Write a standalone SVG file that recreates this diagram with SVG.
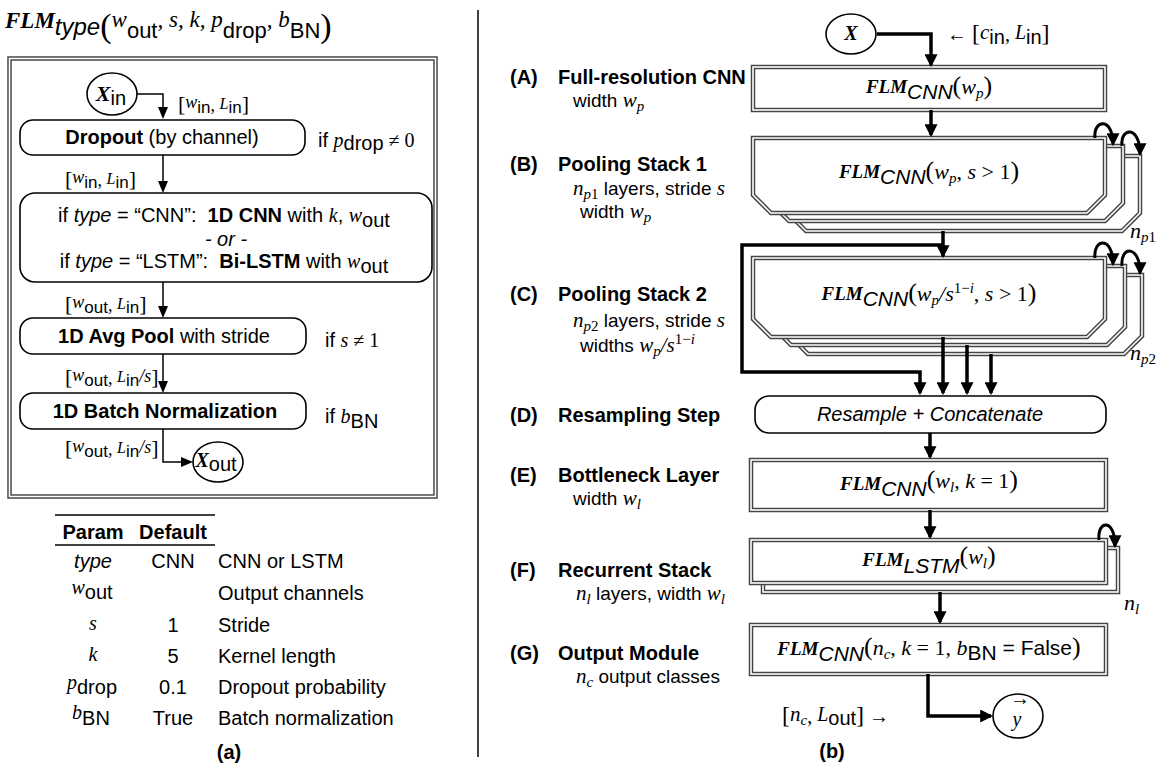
<svg xmlns="http://www.w3.org/2000/svg" width="1163" height="767" viewBox="0 0 1163 767">
<defs>
<style>
text{font-family:"Liberation Sans",Arial,sans-serif;font-size:20px;fill:#000;white-space:pre}
.v{font-family:"Liberation Serif","Times New Roman",serif;font-style:italic}
.r{font-family:"Liberation Serif","Times New Roman",serif}
.b{font-weight:bold}
.i{font-style:italic}
.d{font-size:19px}
.f{font-size:22px}
.thin{fill:none;stroke:#000;stroke-width:1.5}
.thick{fill:none;stroke:#000;stroke-width:3.5}
.arc{fill:none;stroke:#000;stroke-width:3}
.rb{fill:#fff;stroke:#000;stroke-width:1.6}
.do{fill:#fff;stroke:#444;stroke-width:4.5}
.di{fill:none;stroke:#fff;stroke-width:1.6}
.circ{fill:#fff;stroke:#000;stroke-width:1.6}
.rule{stroke:#000;stroke-width:1.5}
</style>
<marker id="ha" viewBox="0 0 12 10" refX="10" refY="5" markerWidth="12" markerHeight="10" markerUnits="userSpaceOnUse" orient="auto"><path d="M0,0 L12,5 L0,10 z"/></marker>
<marker id="hb" viewBox="0 0 12 12" refX="10" refY="6" markerWidth="13" markerHeight="13" markerUnits="userSpaceOnUse" orient="auto"><path d="M0,0 L12,6 L0,12 z"/></marker>
</defs>
<rect width="1163" height="767" fill="#fff"/>

<g id="title"><text x="5" y="28"><tspan class="v b" font-size="23">FLM</tspan><tspan class="i" font-size="24" dy="7">type</tspan><tspan class="r" font-size="34" dy="2">(</tspan><tspan class="v" font-size="23" dy="-10">w</tspan><tspan font-size="22" dy="11">out</tspan><tspan class="v" font-size="23" dy="-11">, s, k, p</tspan><tspan font-size="22" dy="11">drop</tspan><tspan class="v" font-size="23" dy="-11">, b</tspan><tspan font-size="22" dy="11">BN</tspan><tspan class="r" font-size="34" dy="-1">)</tspan></text></g>

<g id="flm-frame"><rect x="9.5" y="58.5" width="426" height="438" class="do"/><rect x="9.5" y="58.5" width="426" height="438" class="di"/></g>

<g id="x-in"><ellipse cx="112" cy="94" rx="25" ry="21" class="circ"/><text x="111" y="101" text-anchor="middle"><tspan class="v b" font-size="22">X</tspan><tspan dy="4">in</tspan></text></g>

<g id="dropout"><rect x="20" y="120" width="285" height="35" rx="13" class="rb"/><text x="162" y="144" text-anchor="middle"><tspan class="b">Dropout</tspan> (by channel)</text><text x="318" y="147">if <tspan class="v">p</tspan><tspan dy="3">drop</tspan><tspan class="r" dy="-3"> ≠ 0</tspan></text></g>

<g id="layer"><rect x="20" y="193" width="412" height="89" rx="15" class="rb"/><text x="224" y="222" text-anchor="middle">if <tspan class="i">type</tspan> = “CNN”:  <tspan class="b">1D CNN</tspan> with <tspan class="v">k</tspan>, <tspan class="v">w</tspan><tspan dy="5">out</tspan></text><text x="226" y="246" text-anchor="middle" class="i">- or -</text><text x="224" y="268" text-anchor="middle">if <tspan class="i">type</tspan> = “LSTM”:  <tspan class="b">Bi-LSTM</tspan> with <tspan class="v">w</tspan><tspan dy="5">out</tspan></text></g>

<g id="avgpool"><rect x="20" y="318" width="286" height="36" rx="13" class="rb"/><text x="164" y="343" text-anchor="middle"><tspan class="b">1D Avg Pool</tspan> with stride</text><text x="325" y="347">if <tspan class="v">s</tspan><tspan class="r"> ≠ 1</tspan></text></g>

<g id="batchnorm"><rect x="20" y="393" width="286" height="36" rx="13" class="rb"/><text x="165" y="418" text-anchor="middle" class="b">1D Batch Normalization</text><text x="325" y="423">if <tspan class="v">b</tspan><tspan dy="5">BN</tspan></text></g>

<g id="x-out"><ellipse cx="218" cy="462" rx="25" ry="20" class="circ"/><text x="216" y="467" text-anchor="middle"><tspan class="v b">X</tspan><tspan dy="4">out</tspan></text></g>

<g id="left-connectors">
<path class="thin" marker-end="url(#ha)" d="M137,94 H163 V117"/>
<path class="thin" marker-end="url(#ha)" d="M163,155 V191"/>
<path class="thin" marker-end="url(#ha)" d="M163,282 V316"/>
<path class="thin" marker-end="url(#ha)" d="M163,354 V391"/>
<path class="thin" marker-end="url(#ha)" d="M163,429 V462 H191"/>
</g>

<g id="left-edge-labels">
<text x="178" y="111"><tspan class="r" font-size="22">[</tspan><tspan class="v" font-size="18" dy="-3">w</tspan><tspan font-size="17" dy="5">in</tspan><tspan class="r" font-size="18" dy="-2">, </tspan><tspan class="v" font-size="16" dy="-2">L</tspan><tspan font-size="17" dy="4">in</tspan><tspan class="r" font-size="22" dy="-2">]</tspan></text>
<text x="65" y="186"><tspan class="r" font-size="22">[</tspan><tspan class="v" font-size="18" dy="-3">w</tspan><tspan font-size="17" dy="5">in</tspan><tspan class="r" font-size="18" dy="-2">, </tspan><tspan class="v" font-size="16" dy="-2">L</tspan><tspan font-size="17" dy="4">in</tspan><tspan class="r" font-size="22" dy="-2">]</tspan></text>
<text x="65" y="311"><tspan class="r" font-size="22">[</tspan><tspan class="v" font-size="18" dy="-3">w</tspan><tspan font-size="17" dy="5">out</tspan><tspan class="r" font-size="18" dy="-2">, </tspan><tspan class="v" font-size="16" dy="-2">L</tspan><tspan font-size="17" dy="4">in</tspan><tspan class="r" font-size="22" dy="-2">]</tspan></text>
<text x="65" y="384"><tspan class="r" font-size="22">[</tspan><tspan class="v" font-size="18" dy="-3">w</tspan><tspan font-size="17" dy="5">out</tspan><tspan class="r" font-size="18" dy="-2">, </tspan><tspan class="v" font-size="16" dy="-2">L</tspan><tspan font-size="17" dy="4">in</tspan><tspan class="v" font-size="18" dy="-4">/s</tspan><tspan class="r" font-size="22" dy="2">]</tspan></text>
<text x="65" y="455"><tspan class="r" font-size="22">[</tspan><tspan class="v" font-size="18" dy="-3">w</tspan><tspan font-size="17" dy="5">out</tspan><tspan class="r" font-size="18" dy="-2">, </tspan><tspan class="v" font-size="16" dy="-2">L</tspan><tspan font-size="17" dy="4">in</tspan><tspan class="v" font-size="18" dy="-4">/s</tspan><tspan class="r" font-size="22" dy="2">]</tspan></text>
</g>

<g id="param-table">
<line x1="55" y1="515" x2="215" y2="515" class="rule"/>
<line x1="55" y1="545" x2="215" y2="545" class="rule"/>
<text x="93" y="539" text-anchor="middle" class="b" font-size="18">Param</text>
<text x="173" y="539" text-anchor="middle" class="b" font-size="18">Default</text>
<text x="93" y="568" text-anchor="middle" class="i" font-size="18">type</text>
<text x="173" y="568" text-anchor="middle" font-size="18">CNN</text>
<text x="218" y="568" font-size="18">CNN or LSTM</text>
<text x="92" y="597" text-anchor="middle" font-size="18"><tspan class="v" font-size="20" dy="-3">w</tspan><tspan dy="5">out</tspan></text>
<text x="218" y="600" font-size="18">Output channels</text>
<text x="93" y="630" text-anchor="middle" class="v" font-size="20">s</text>
<text x="173" y="632" text-anchor="middle" font-size="18">1</text>
<text x="218" y="632" font-size="18">Stride</text>
<text x="93" y="661" text-anchor="middle" class="v" font-size="20">k</text>
<text x="173" y="663" text-anchor="middle" font-size="18">5</text>
<text x="218" y="663" font-size="18">Kernel length</text>
<text x="92" y="691" text-anchor="middle" font-size="18"><tspan class="v" font-size="20" dy="-2">p</tspan><tspan dy="5">drop</tspan></text>
<text x="173" y="694" text-anchor="middle" font-size="18">0.1</text>
<text x="218" y="694" font-size="18">Dropout probability</text>
<text x="91" y="722" text-anchor="middle" font-size="18"><tspan class="v" font-size="20" dy="-3">b</tspan><tspan dy="6">BN</tspan></text>
<text x="173" y="725" text-anchor="middle" font-size="18">True</text>
<text x="218" y="725" font-size="18">Batch normalization</text>
<text x="229" y="759" text-anchor="middle" class="b">(a)</text>
</g>

<g id="divider"><line x1="478" y1="10" x2="478" y2="757" class="rule"/></g>

<g id="labels-b">
<text x="510" y="84" class="b">(A)</text><text x="558" y="84" class="b">Full-resolution CNN</text>
<text x="573" y="107" class="d">width <tspan class="v" font-size="21">w</tspan><tspan class="v" font-size="15" dy="4">p</tspan></text>
<text x="510" y="171" class="b">(B)</text><text x="558" y="171" class="b">Pooling Stack 1</text>
<text x="573" y="195" class="d"><tspan class="v" font-size="21">n</tspan><tspan class="v" font-size="15" dy="4">p</tspan><tspan class="r" font-size="15">1</tspan><tspan dy="-4"> layers, stride </tspan><tspan class="v" font-size="21">s</tspan></text>
<text x="580" y="218" class="d">width <tspan class="v" font-size="21">w</tspan><tspan class="v" font-size="15" dy="4">p</tspan></text>
<text x="510" y="301" class="b">(C)</text><text x="558" y="301" class="b">Pooling Stack 2</text>
<text x="573" y="327" class="d"><tspan class="v" font-size="21">n</tspan><tspan class="v" font-size="15" dy="4">p</tspan><tspan class="r" font-size="15">2</tspan><tspan dy="-4"> layers, stride </tspan><tspan class="v" font-size="21">s</tspan></text>
<text x="580" y="352" class="d">widths <tspan class="v" font-size="21">w</tspan><tspan class="v" font-size="15" dy="4">p</tspan><tspan class="v" font-size="21" dy="-4">/s</tspan><tspan class="r" font-size="15" dy="-8">1−</tspan><tspan class="v" font-size="15">i</tspan></text>
<text x="510" y="422" class="b">(D)</text><text x="558" y="422" class="b">Resampling Step</text>
<text x="510" y="482" class="b">(E)</text><text x="558" y="482" class="b">Bottleneck Layer</text>
<text x="573" y="505" class="d">width <tspan class="v" font-size="21">w</tspan><tspan class="v" font-size="15" dy="4">l</tspan></text>
<text x="510" y="577" class="b">(F)</text><text x="558" y="577" class="b">Recurrent Stack</text>
<text x="576" y="600" class="d"><tspan class="v" font-size="21">n</tspan><tspan class="v" font-size="15" dy="4">l</tspan><tspan dy="-4"> layers, width </tspan><tspan class="v" font-size="21">w</tspan><tspan class="v" font-size="15" dy="4">l</tspan></text>
<text x="510" y="660" class="b">(G)</text><text x="558" y="660" class="b">Output Module</text>
<text x="576" y="683" class="d"><tspan class="v" font-size="21">n</tspan><tspan class="v" font-size="15" dy="4">c</tspan><tspan dy="-4"> output classes</tspan></text>
<text x="832" y="758" text-anchor="middle" class="b">(b)</text>
</g>

<g id="x-node"><ellipse cx="851" cy="34" rx="25" ry="20" class="circ"/><text x="851" y="40" text-anchor="middle" class="v b" font-size="21">X</text><text x="947" y="41"><tspan class="r">← </tspan><tspan class="r" font-size="24">[</tspan><tspan class="v" font-size="21" dy="-2">c</tspan><tspan dy="5">in</tspan><tspan class="r" dy="-3">, </tspan><tspan class="v" dy="-2">L</tspan><tspan dy="5">in</tspan><tspan class="r" font-size="24" dy="-3">]</tspan></text></g>

<g id="full-res-cnn"><rect x="753" y="67" width="352" height="43" class="do"/><rect x="753" y="67" width="352" height="43" class="di"/><text x="929" y="93" text-anchor="middle" class="f"><tspan class="v b" font-size="19">FLM</tspan><tspan class="i" font-size="21" dy="6">CNN</tspan><tspan class="r" font-size="26" dy="-5">(</tspan><tspan class="v">w</tspan><tspan class="v" font-size="15" dy="4">p</tspan><tspan class="r" font-size="26" dy="-4">)</tspan></text></g>

<g id="pooling-stack-1">
<polygon class="do" points="788,156 1140,156 1140,213 1122,231 806,231 788,213"/><polygon class="di" points="788,156 1140,156 1140,213 1122,231 806,231 788,213"/>
<polygon class="do" points="771,146 1123,146 1123,203 1105,221 789,221 771,203"/><polygon class="di" points="771,146 1123,146 1123,203 1105,221 789,221 771,203"/>
<polygon class="do" points="753,138 1105,138 1105,195 1087,213 771,213 753,195"/><polygon class="di" points="753,138 1105,138 1105,195 1087,213 771,213 753,195"/>
<text x="929" y="178" text-anchor="middle" class="f"><tspan class="v b" font-size="19">FLM</tspan><tspan class="i" font-size="21" dy="6">CNN</tspan><tspan class="r" font-size="26" dy="-5">(</tspan><tspan class="v">w</tspan><tspan class="v" font-size="15" dy="4">p</tspan><tspan class="r" dy="-4">, </tspan><tspan class="v">s</tspan><tspan class="r"> &gt; 1</tspan><tspan class="r" font-size="26">)</tspan></text>
<text x="1130" y="238" class="f"><tspan class="v">n</tspan><tspan class="v" font-size="15" dy="4">p</tspan><tspan class="r" font-size="15">1</tspan></text>
</g>

<g id="pooling-stack-2">
<polygon class="do" points="790,275 1142,275 1142,336 1124,354 808,354 790,336"/><polygon class="di" points="790,275 1142,275 1142,336 1124,354 808,354 790,336"/>
<polygon class="do" points="773,266 1125,266 1125,327 1107,345 791,345 773,327"/><polygon class="di" points="773,266 1125,266 1125,327 1107,345 791,345 773,327"/>
<polygon class="do" points="753,258 1105,258 1105,319 1087,337 771,337 753,319"/><polygon class="di" points="753,258 1105,258 1105,319 1087,337 771,337 753,319"/>
<text x="929" y="300" text-anchor="middle" class="f"><tspan class="v b" font-size="19">FLM</tspan><tspan class="i" font-size="21" dy="6">CNN</tspan><tspan class="r" font-size="26" dy="-5">(</tspan><tspan class="v">w</tspan><tspan class="v" font-size="15" dy="4">p</tspan><tspan class="v" dy="-4">/s</tspan><tspan class="r" font-size="15" dy="-8">1−</tspan><tspan class="v" font-size="15">i</tspan><tspan class="r" dy="8">, </tspan><tspan class="v">s</tspan><tspan class="r"> &gt; 1</tspan><tspan class="r" font-size="26">)</tspan></text>
<text x="1130" y="360" class="f"><tspan class="v">n</tspan><tspan class="v" font-size="15" dy="4">p</tspan><tspan class="r" font-size="15">2</tspan></text>
</g>

<g id="resample"><rect x="755" y="396" width="351" height="37" rx="14" class="rb"/><text x="930" y="421" text-anchor="middle" class="i">Resample + Concatenate</text></g>

<g id="bottleneck"><rect x="751" y="460" width="355" height="50" class="do"/><rect x="751" y="460" width="355" height="50" class="di"/><text x="929" y="490" text-anchor="middle" class="f"><tspan class="v b" font-size="19">FLM</tspan><tspan class="i" font-size="21" dy="6">CNN</tspan><tspan class="r" font-size="26" dy="-8">(</tspan><tspan class="v">w</tspan><tspan class="v" font-size="15" dy="4">l</tspan><tspan class="r" dy="-4">, </tspan><tspan class="v">k</tspan><tspan class="r"> = 1</tspan><tspan class="r" font-size="26">)</tspan></text></g>

<g id="recurrent-stack">
<rect x="763" y="548" width="355" height="44" class="do"/><rect x="763" y="548" width="355" height="44" class="di"/>
<rect x="751" y="540" width="355" height="43" class="do"/><rect x="751" y="540" width="355" height="43" class="di"/>
<text x="929" y="566" text-anchor="middle" class="f"><tspan class="v b" font-size="19">FLM</tspan><tspan class="i" font-size="21" dy="7">LSTM</tspan><tspan class="r" font-size="26" dy="-9">(</tspan><tspan class="v">w</tspan><tspan class="v" font-size="15" dy="4">l</tspan><tspan class="r" font-size="26" dy="-4">)</tspan></text>
<text x="1124" y="610" class="f"><tspan class="v">n</tspan><tspan class="v" font-size="15" dy="4">l</tspan></text>
</g>

<g id="output-module"><rect x="751" y="625" width="355" height="49" class="do"/><rect x="751" y="625" width="355" height="49" class="di"/><text x="929" y="655" text-anchor="middle" class="f"><tspan class="v b" font-size="19">FLM</tspan><tspan class="i" font-size="21" dy="6">CNN</tspan><tspan class="r" font-size="26" dy="-6">(</tspan><tspan class="v">n</tspan><tspan class="v" font-size="15" dy="4">c</tspan><tspan class="r" dy="-4">, </tspan><tspan class="v">k</tspan><tspan class="r"> = 1, </tspan><tspan class="v">b</tspan><tspan font-size="21" dy="5">BN</tspan><tspan font-size="21" dy="-5"> = False</tspan><tspan class="r" font-size="26">)</tspan></text></g>

<g id="y-out"><ellipse cx="1018" cy="716" rx="25" ry="22" class="circ"/><text x="1017" y="726" text-anchor="middle" class="v" font-size="21">y</text><text x="1020" y="705" text-anchor="middle" class="r" font-size="10">→</text><text x="782" y="723"><tspan class="r" font-size="24">[</tspan><tspan class="v" font-size="21" dy="-2">n</tspan><tspan class="v" font-size="15" dy="4">c</tspan><tspan class="r" dy="-2">, </tspan><tspan class="v" dy="-2">L</tspan><tspan dy="4">out</tspan><tspan class="r" font-size="24" dy="-2">]</tspan><tspan class="r"> →</tspan></text></g>

<g id="connectors">
<path class="thick" marker-end="url(#hb)" d="M877,34 H931 V65"/>
<path class="thick" marker-end="url(#hb)" d="M931,110 V135"/>
<path class="thick" marker-end="url(#hb)" d="M943,231 V256"/>
<path class="thick" marker-end="url(#hb)" d="M943,245 H742 V372 H920 V393"/>
<path class="thick" marker-end="url(#hb)" d="M943,337 V393"/>
<path class="thick" marker-end="url(#hb)" d="M967,345 V393"/>
<path class="thick" marker-end="url(#hb)" d="M991,354 V393"/>
<path class="thick" marker-end="url(#hb)" d="M930,433 V457"/>
<path class="thick" marker-end="url(#hb)" d="M930,510 V537"/>
<path class="thick" marker-end="url(#hb)" d="M940,592 V622"/>
<path class="thick" marker-end="url(#hb)" d="M928,674 V716 H991"/>
<path class="arc" marker-end="url(#hb)" d="M1095,138 C1093,119 1113,117 1113,144"/>
<path class="arc" marker-end="url(#hb)" d="M1122,146 C1120,127 1140,125 1140,154"/>
<path class="arc" marker-end="url(#hb)" d="M1095,258 C1093,238 1113,236 1113,264"/>
<path class="arc" marker-end="url(#hb)" d="M1122,266 C1120,246 1140,244 1140,273"/>
<path class="arc" marker-end="url(#hb)" d="M1099,540 C1097,520 1115,518 1115,546"/>
</g>
</svg>
